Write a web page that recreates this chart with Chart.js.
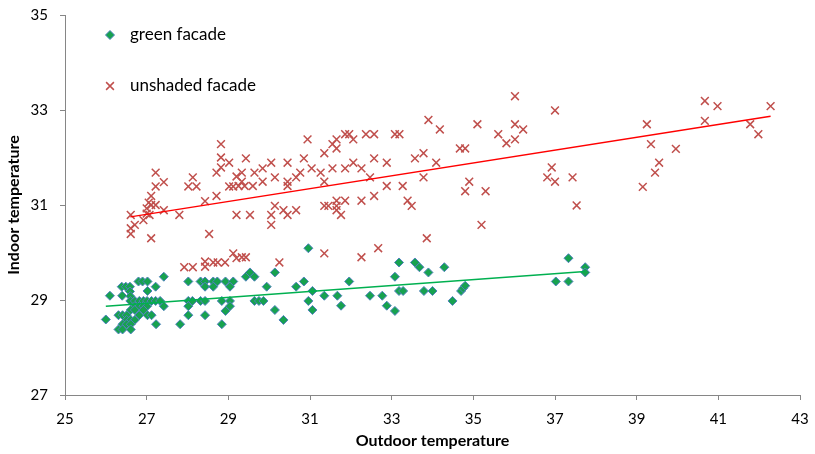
<!DOCTYPE html>
<html>
<head>
<meta charset="utf-8">
<script src="https://cdn.jsdelivr.net/npm/chart.js@4/dist/chart.umd.min.js"></script>
<style>
  html, body { margin: 0; padding: 0; background: #ffffff; }
  #wrap { width: 815px; height: 454px; position: relative; }
</style>
</head>
<body>
<div id="wrap"><canvas id="c" width="815" height="454"></canvas></div>
<script>
// Outdoor vs indoor temperature, green facade
const greenOutdoor = [
  26.00, 26.10, 26.39, 26.49, 26.59, 26.40, 26.59, 26.60, 26.60, 26.80,
  26.90, 27.02, 27.02, 27.22, 27.42, 26.71, 26.82, 26.92, 27.01, 27.12,
  27.22, 27.33, 26.71, 26.82, 26.92, 27.01, 27.42, 26.31, 26.41, 26.51,
  26.61, 26.71, 26.82, 27.02, 27.12, 26.51, 26.61, 26.71, 26.41, 26.51,
  26.61, 26.31, 26.41, 26.61, 26.92, 27.23, 27.82, 28.02, 28.02, 28.12,
  28.02, 28.02, 28.32, 28.43, 28.43, 28.32, 28.43, 28.43, 28.63, 28.73,
  28.63, 28.93, 29.12, 29.04, 28.84, 29.04, 29.04, 28.93, 28.84, 29.43,
  29.53, 29.64, 29.64, 29.75, 29.86, 29.94, 30.14, 30.14, 30.35, 30.66,
  30.85, 30.96, 30.96, 31.06, 31.06, 31.35, 31.67, 31.76, 31.96, 32.47,
  32.77, 32.88, 33.08, 33.08, 33.18, 33.18, 33.28, 33.57, 33.68, 33.90,
  33.79, 34.00, 34.29, 34.49, 34.70, 34.75, 34.80, 37.02, 37.33, 37.33,
  37.74, 37.74
];
const greenIndoor = [
  28.59, 29.09, 29.28, 29.28, 29.28, 29.09, 29.18, 29.08, 28.98, 29.39,
  29.39, 29.39, 29.19, 29.28, 29.49, 28.98, 28.98, 28.98, 28.98, 28.98,
  28.98, 28.98, 28.87, 28.87, 28.87, 28.87, 28.87, 28.68, 28.68, 28.68,
  28.79, 28.79, 28.68, 28.68, 28.68, 28.58, 28.58, 28.58, 28.49, 28.49,
  28.49, 28.38, 28.38, 28.38, 28.79, 28.49, 28.49, 29.39, 28.98, 28.98,
  28.87, 28.68, 29.39, 29.39, 29.28, 28.98, 28.98, 28.68, 29.39, 29.39,
  29.28, 29.39, 29.39, 29.28, 28.98, 28.98, 28.87, 28.77, 28.49, 29.49,
  29.58, 29.49, 28.98, 28.98, 28.98, 29.28, 29.58, 28.79, 28.58, 29.28,
  29.39, 30.09, 28.98, 28.79, 29.19, 29.09, 29.09, 28.88, 29.39, 29.09,
  29.09, 28.88, 28.77, 29.49, 29.79, 29.19, 29.19, 29.79, 29.69, 29.58,
  29.19, 29.19, 29.69, 28.98, 29.19, 29.25, 29.30, 29.39, 29.88, 29.39,
  29.69, 29.58
];

// Outdoor vs indoor temperature, unshaded facade
const redOutdoor = [
  26.61, 26.61, 26.61, 26.71, 26.92, 27.00, 27.00, 27.05, 27.07, 27.11,
  27.11, 27.11, 27.22, 27.22, 27.22, 27.42, 27.42, 27.80, 28.02, 28.22,
  28.13, 28.43, 28.53, 28.71, 28.71, 28.82, 28.82, 28.82, 29.02, 29.02,
  29.12, 29.20, 29.20, 27.92, 28.13, 28.43, 28.43, 28.63, 28.74, 28.92,
  29.12, 29.20, 29.33, 29.43, 29.43, 29.33, 29.25, 29.40, 29.60, 29.33,
  29.64, 29.84, 29.84, 30.05, 30.14, 30.45, 30.45, 30.45, 30.66, 30.76,
  30.85, 30.94, 31.04, 31.26, 31.35, 31.35, 31.55, 31.65, 31.65, 31.55,
  31.86, 31.86, 31.96, 32.06, 32.06, 32.26, 32.37, 32.57, 32.57, 32.47,
  32.88, 33.08, 33.19, 32.88, 33.27, 32.57, 32.26, 31.86, 31.65, 31.65,
  31.76, 31.35, 31.45, 31.65, 33.39, 33.49, 33.57, 33.78, 33.78, 30.14,
  30.35, 30.45, 30.66, 30.05, 30.05, 29.53, 30.25, 31.35, 32.26, 32.67,
  33.86, 36.02, 33.90, 34.18, 35.10, 35.61, 36.02, 36.22, 35.81, 36.02,
  37.00, 34.67, 34.80, 34.09, 34.90, 34.80, 35.30, 35.20, 36.92, 36.81,
  37.00, 37.43, 37.53, 39.25, 39.35, 39.96, 39.55, 39.45, 39.15, 40.67,
  40.98, 40.67, 41.78, 41.98, 42.28
];
const redIndoor = [
  30.79, 30.51, 30.39, 30.58, 30.68, 30.82, 30.93, 31.05, 30.79, 30.30,
  31.00, 31.19, 31.39, 31.68, 31.00, 31.48, 30.89, 30.79, 31.39, 31.39,
  31.58, 31.08, 30.39, 31.19, 31.68, 31.79, 32.00, 32.28, 31.89, 31.39,
  31.39, 31.60, 30.79, 29.69, 29.69, 29.81, 29.70, 29.79, 29.79, 29.79,
  29.98, 29.88, 29.90, 29.90, 31.98, 31.68, 31.40, 31.40, 31.40, 31.49,
  31.68, 31.77, 31.49, 31.89, 31.58, 31.89, 31.49, 31.40, 31.58, 31.68,
  31.98, 32.38, 31.77, 31.68, 32.09, 31.49, 32.28, 32.38, 32.19, 31.77,
  31.77, 32.49, 32.49, 32.38, 31.89, 31.77, 32.49, 32.49, 31.98, 31.58,
  31.89, 32.49, 32.49, 31.40, 31.40, 31.19, 31.09, 31.09, 31.09, 30.98,
  30.79, 30.98, 30.98, 30.89, 31.09, 30.98, 31.98, 32.09, 31.58, 30.98,
  30.89, 30.79, 30.89, 30.79, 30.58, 30.79, 29.79, 29.98, 29.90, 30.09,
  30.30, 33.29, 32.79, 32.59, 32.70, 32.49, 32.70, 32.59, 32.30, 32.38,
  32.99, 32.19, 32.19, 31.89, 31.49, 31.29, 31.29, 30.58, 31.79, 31.58,
  31.49, 31.58, 30.99, 32.70, 32.28, 32.18, 31.89, 31.68, 31.38, 33.19,
  33.08, 32.77, 32.70, 32.49, 33.08
];

// Linear trend line end points
const greenTrendX = [26.00, 37.74];
const greenTrendY = [28.87, 29.60];
const redTrendX = [26.60, 42.28];
const redTrendY = [30.75, 32.87];

// Axis ranges and titles
const xTicks = [25, 27, 29, 31, 33, 35, 37, 39, 41, 43];
const yTicks = [27, 29, 31, 33, 35];
const seriesNames = ['green facade', 'unshaded facade'];
const xTitle = 'Outdoor temperature';
const yTitle = 'Indoor temperature';

const toPoints = (xs, ys) => xs.map((x, i) => ({ x: x, y: ys[i] }));

const FONT = 'Lato, "Open Sans", sans-serif';
const GREEN_FILL = '#17A24F';
const GREEN_EDGE = '#4F81BD';
const RED = '#C0504D';

// Legend drawn inside the plot area, top-left
const insideLegend = {
  id: 'insideLegend',
  afterDraw(chart) {
    const ctx = chart.ctx;
    const items = [
      { name: seriesNames[0], y: 35, style: 'rectRot', r: 4.5, fill: GREEN_FILL, edge: GREEN_EDGE, bw: 1 },
      { name: seriesNames[1], y: 86, style: 'crossRot', r: 5.5, fill: RED, edge: RED, bw: 1.5 }
    ];
    ctx.save();
    items.forEach(it => {
      ctx.fillStyle = it.fill;
      ctx.strokeStyle = it.edge;
      ctx.lineWidth = it.bw;
      Chart.helpers.drawPoint(ctx, { pointStyle: it.style, radius: it.r, rotation: 0, borderWidth: it.bw }, 110, it.y);
      ctx.fillStyle = '#000000';
      ctx.font = '17px ' + FONT;
      ctx.textBaseline = 'middle';
      ctx.textAlign = 'left';
      ctx.fillText(it.name, 130, it.y);
    });
    ctx.restore();
  }
};

new Chart(document.getElementById('c'), {
  type: 'scatter',
  data: {
    datasets: [
      {
        label: seriesNames[0],
        data: toPoints(greenOutdoor, greenIndoor),
        pointStyle: 'rectRot',
        pointRadius: 4.5,
        pointHoverRadius: 4.5,
        backgroundColor: GREEN_FILL,
        borderColor: GREEN_EDGE,
        borderWidth: 1,
        order: 3
      },
      {
        label: seriesNames[1],
        data: toPoints(redOutdoor, redIndoor),
        pointStyle: 'crossRot',
        pointRadius: 5.5,
        pointHoverRadius: 5.5,
        backgroundColor: RED,
        borderColor: RED,
        borderWidth: 1.5,
        order: 4
      },
      {
        type: 'line',
        label: 'green trend',
        data: toPoints(greenTrendX, greenTrendY),
        borderColor: '#00B050',
        borderWidth: 1.5,
        pointRadius: 0,
        fill: false,
        order: 1
      },
      {
        type: 'line',
        label: 'unshaded trend',
        data: toPoints(redTrendX, redTrendY),
        borderColor: '#FF0000',
        borderWidth: 1.5,
        pointRadius: 0,
        fill: false,
        order: 2
      }
    ]
  },
  options: {
    responsive: false,
    animation: false,
    devicePixelRatio: 1,
    layout: { padding: { top: 15, right: 15, left: 0, bottom: 0 } },
    plugins: {
      legend: { display: false },
      tooltip: { enabled: false }
    },
    scales: {
      x: {
        type: 'linear',
        min: xTicks[0],
        max: xTicks[xTicks.length - 1],
        afterBuildTicks(scale) { scale.ticks = xTicks.map(v => ({ value: v })); },
        afterFit(scale) {
          scale.height = 59;
          scale.paddingLeft = 0;
          scale.paddingRight = 0;
        },
        grid: { drawOnChartArea: false, drawTicks: true, tickLength: 5, color: '#868686' },
        border: { display: true, color: '#868686', width: 1 },
        ticks: { color: '#000000', font: { family: FONT, size: 15 }, padding: 10 },
        title: {
          display: true,
          text: xTitle,
          color: '#000000',
          font: { family: FONT, size: 16, weight: 'bold' },
          padding: { top: 6, bottom: 4 }
        }
      },
      y: {
        type: 'linear',
        min: yTicks[0],
        max: yTicks[yTicks.length - 1],
        afterBuildTicks(scale) { scale.ticks = yTicks.map(v => ({ value: v })); },
        afterFit(scale) {
          scale.width = 65;
          scale.paddingTop = 0;
          scale.paddingBottom = 0;
        },
        grid: { drawOnChartArea: false, drawTicks: true, tickLength: 5, color: '#868686' },
        border: { display: true, color: '#868686', width: 1 },
        ticks: { color: '#000000', font: { family: FONT, size: 15 }, padding: 12 },
        title: {
          display: true,
          text: yTitle,
          color: '#000000',
          font: { family: FONT, size: 16, weight: 'bold' },
          padding: { top: 4, bottom: 12 }
        }
      }
    }
  },
  plugins: [insideLegend]
});
</script>
</body>
</html>
